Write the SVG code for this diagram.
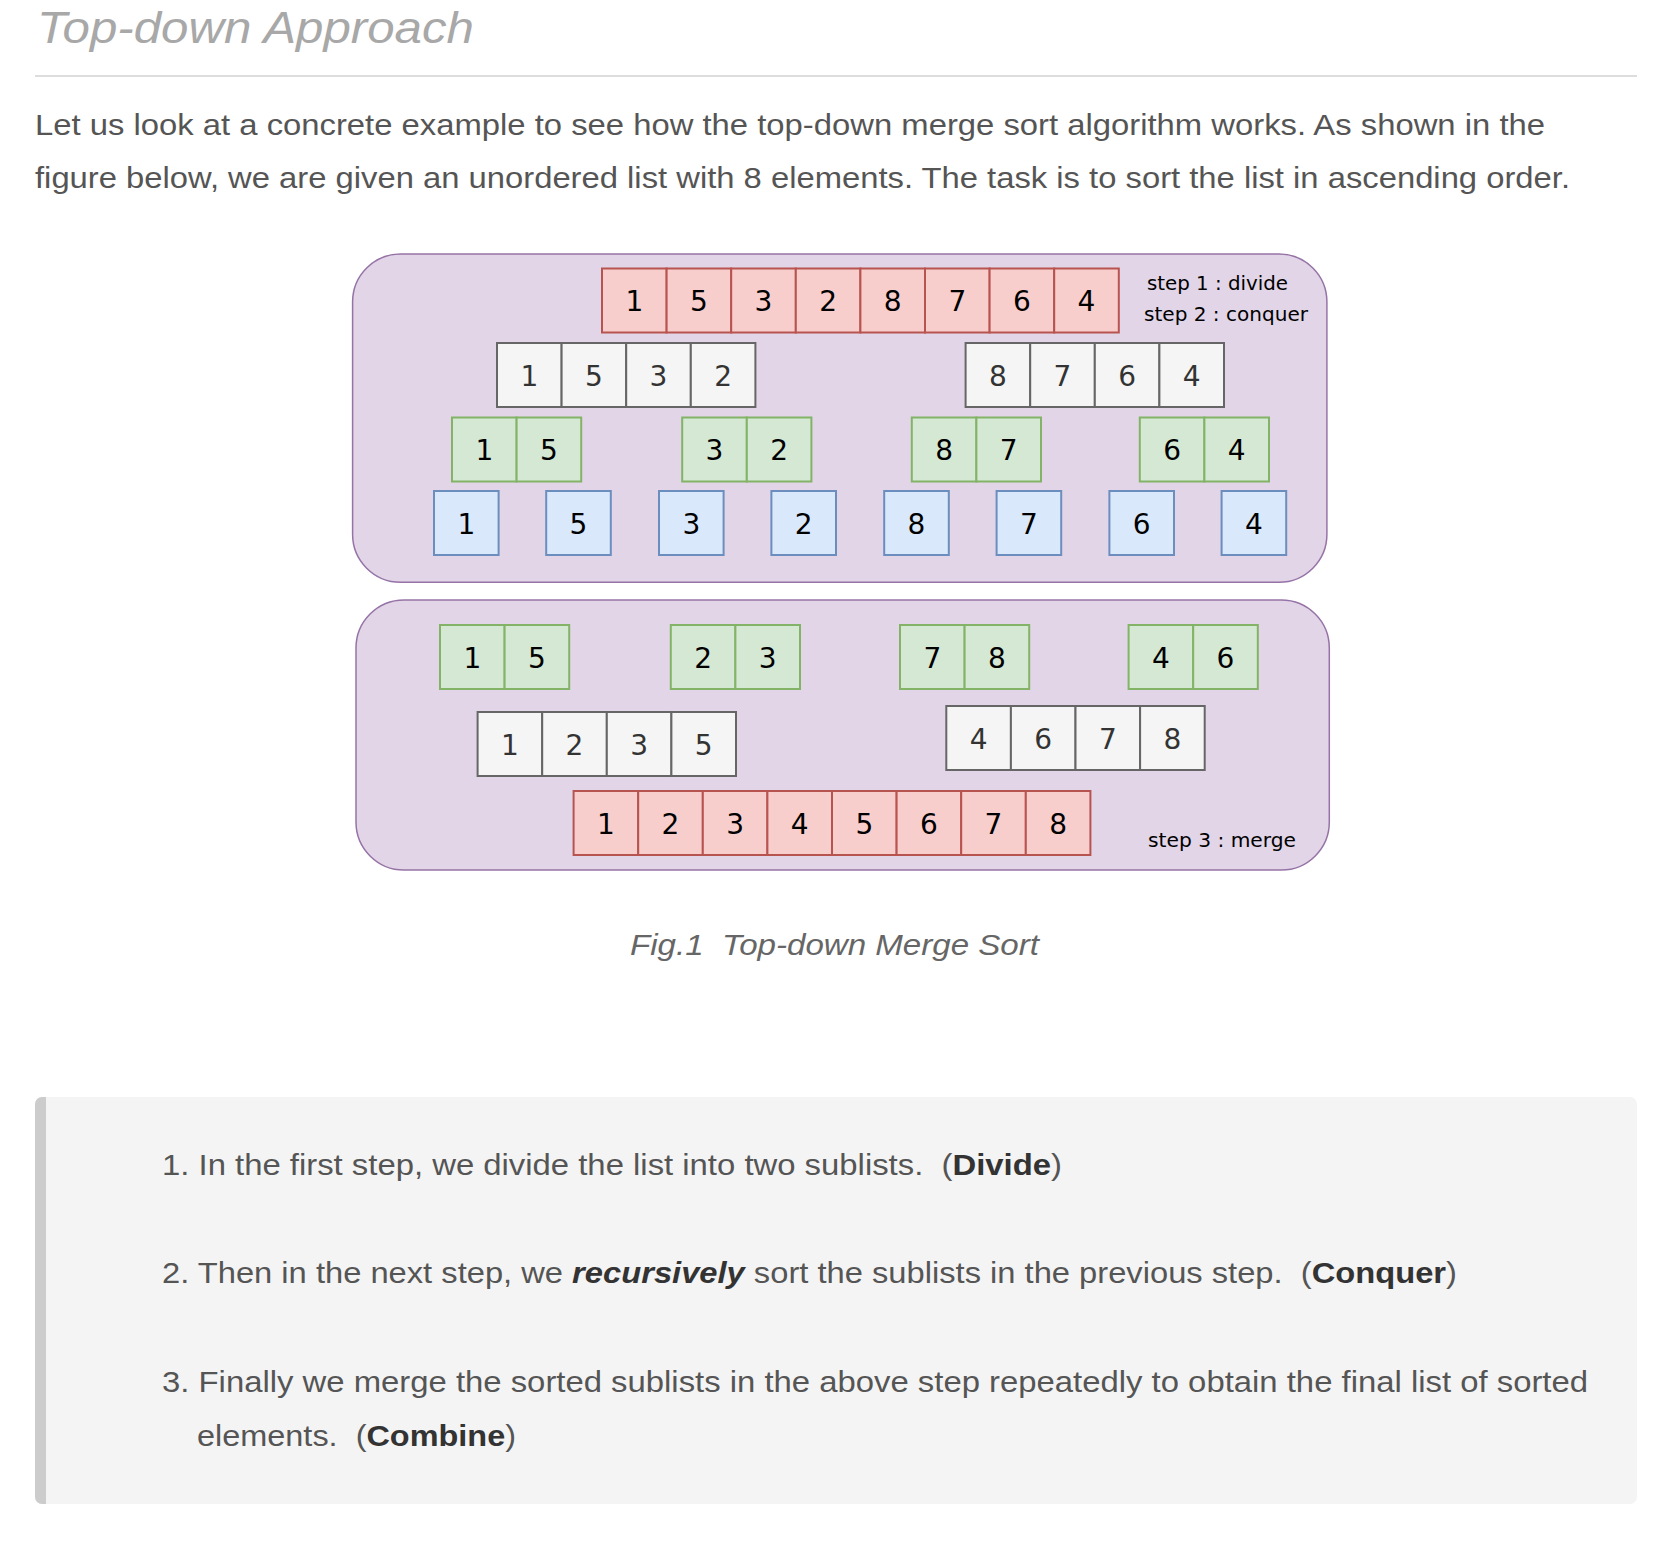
<svg xmlns="http://www.w3.org/2000/svg" width="1670" height="1560" viewBox="0 0 1670 1560">
<style>
.body{font-family:"Liberation Sans",Arial,sans-serif;font-size:29px;fill:#555}
.title{font-family:"Liberation Sans",Arial,sans-serif;font-size:45px;font-style:italic;fill:#a8a8a8}
.cap{font-family:"Liberation Sans",Arial,sans-serif;font-size:29px;font-style:italic;fill:#666}
.b{font-weight:bold;fill:#333}
.bi{font-weight:bold;font-style:italic;fill:#333}
.panel{fill:#e1d5e7;stroke:#9673a6;stroke-width:1.5}
.red rect{fill:#f8cecc;stroke:#b85450;stroke-width:2}
.gray rect{fill:#f5f5f5;stroke:#666666;stroke-width:2}
.green rect{fill:#d5e8d4;stroke:#82b366;stroke-width:2}
.blue rect{fill:#dae8fc;stroke:#6c8ebf;stroke-width:2}
.cell text{font-family:"DejaVu Sans","Liberation Sans",sans-serif;font-size:28px;text-anchor:middle;fill:#000}
.gray text{fill:#333}
.step{font-family:"DejaVu Sans","Liberation Sans",sans-serif;font-size:20px;fill:#000}
</style>
<defs>
<clipPath id="qclip"><rect x="35" y="1097" width="1602" height="407" rx="7"/></clipPath>
</defs>

<g id="header">
<text class="title" x="37" y="43" textLength="437" lengthAdjust="spacingAndGlyphs">Top-down Approach</text>
<line x1="35" y1="76" x2="1637" y2="76" stroke="#dddddd" stroke-width="2"/>
<text class="body" x="35" y="135" textLength="1510" lengthAdjust="spacingAndGlyphs">Let us look at a concrete example to see how the top-down merge sort algorithm works. As shown in the</text>
<text class="body" x="35" y="188" textLength="1535" lengthAdjust="spacingAndGlyphs">figure below, we are given an unordered list with 8 elements. The task is to sort the list in ascending order.</text>
</g>

<g id="divide-panel">
<rect class="panel" x="352.6" y="254" width="974.3" height="328.3" rx="48"/>
</g>
<g id="merge-panel">
<rect class="panel" x="356" y="600" width="973.3" height="270" rx="48"/>
</g>

<g id="row-original" class="cell red">
<rect x="602" y="268.5" width="64.6" height="64"/><rect x="666.6" y="268.5" width="64.6" height="64"/><rect x="731.2" y="268.5" width="64.6" height="64"/><rect x="795.8" y="268.5" width="64.6" height="64"/><rect x="860.4" y="268.5" width="64.6" height="64"/><rect x="925" y="268.5" width="64.6" height="64"/><rect x="989.6" y="268.5" width="64.6" height="64"/><rect x="1054.2" y="268.5" width="64.6" height="64"/>
<text x="634.3" y="311">1</text><text x="698.9" y="311">5</text><text x="763.5" y="311">3</text><text x="828.1" y="311">2</text><text x="892.7" y="311">8</text><text x="957.3" y="311">7</text><text x="1021.9" y="311">6</text><text x="1086.5" y="311">4</text>
</g>

<g id="half-1532" class="cell gray">
<rect x="497" y="343" width="64.6" height="64"/><rect x="561.6" y="343" width="64.6" height="64"/><rect x="626.2" y="343" width="64.6" height="64"/><rect x="690.8" y="343" width="64.6" height="64"/>
<text x="529.3" y="385.5">1</text><text x="593.9" y="385.5">5</text><text x="658.5" y="385.5">3</text><text x="723.1" y="385.5">2</text>
</g>
<g id="half-8764" class="cell gray">
<rect x="965.6" y="343" width="64.6" height="64"/><rect x="1030.2" y="343" width="64.6" height="64"/><rect x="1094.8" y="343" width="64.6" height="64"/><rect x="1159.4" y="343" width="64.6" height="64"/>
<text x="997.9" y="385.5">8</text><text x="1062.5" y="385.5">7</text><text x="1127.1" y="385.5">6</text><text x="1191.7" y="385.5">4</text>
</g>

<g id="pair-15" class="cell green">
<rect x="452" y="417.5" width="64.6" height="64"/><rect x="516.6" y="417.5" width="64.6" height="64"/>
<text x="484.3" y="460">1</text><text x="548.9" y="460">5</text>
</g>
<g id="pair-32" class="cell green">
<rect x="682.2" y="417.5" width="64.6" height="64"/><rect x="746.8" y="417.5" width="64.6" height="64"/>
<text x="714.5" y="460">3</text><text x="779.1" y="460">2</text>
</g>
<g id="pair-87" class="cell green">
<rect x="911.8" y="417.5" width="64.6" height="64"/><rect x="976.4" y="417.5" width="64.6" height="64"/>
<text x="944.1" y="460">8</text><text x="1008.7" y="460">7</text>
</g>
<g id="pair-64" class="cell green">
<rect x="1139.8" y="417.5" width="64.6" height="64"/><rect x="1204.4" y="417.5" width="64.6" height="64"/>
<text x="1172.1" y="460">6</text><text x="1236.7" y="460">4</text>
</g>

<g id="single-1" class="cell blue"><rect x="434" y="491" width="64.6" height="64"/><text x="466.3" y="533.5">1</text></g>
<g id="single-5" class="cell blue"><rect x="546.2" y="491" width="64.6" height="64"/><text x="578.5" y="533.5">5</text></g>
<g id="single-3" class="cell blue"><rect x="659" y="491" width="64.6" height="64"/><text x="691.3" y="533.5">3</text></g>
<g id="single-2" class="cell blue"><rect x="771.4" y="491" width="64.6" height="64"/><text x="803.7" y="533.5">2</text></g>
<g id="single-8" class="cell blue"><rect x="884.2" y="491" width="64.6" height="64"/><text x="916.5" y="533.5">8</text></g>
<g id="single-7" class="cell blue"><rect x="996.6" y="491" width="64.6" height="64"/><text x="1028.9" y="533.5">7</text></g>
<g id="single-6" class="cell blue"><rect x="1109.4" y="491" width="64.6" height="64"/><text x="1141.7" y="533.5">6</text></g>
<g id="single-4" class="cell blue"><rect x="1221.6" y="491" width="64.6" height="64"/><text x="1253.9" y="533.5">4</text></g>

<g id="step-labels-top">
<text class="step" x="1147" y="290" textLength="141" lengthAdjust="spacingAndGlyphs">step 1 : divide</text>
<text class="step" x="1144" y="321" textLength="164" lengthAdjust="spacingAndGlyphs">step 2 : conquer</text>
</g>

<g id="sorted-15" class="cell green">
<rect x="440" y="625" width="64.6" height="64"/><rect x="504.6" y="625" width="64.6" height="64"/>
<text x="472.3" y="667.5">1</text><text x="536.9" y="667.5">5</text>
</g>
<g id="sorted-23" class="cell green">
<rect x="670.8" y="625" width="64.6" height="64"/><rect x="735.4" y="625" width="64.6" height="64"/>
<text x="703.1" y="667.5">2</text><text x="767.7" y="667.5">3</text>
</g>
<g id="sorted-78" class="cell green">
<rect x="900" y="625" width="64.6" height="64"/><rect x="964.6" y="625" width="64.6" height="64"/>
<text x="932.3" y="667.5">7</text><text x="996.9" y="667.5">8</text>
</g>
<g id="sorted-46" class="cell green">
<rect x="1128.6" y="625" width="64.6" height="64"/><rect x="1193.2" y="625" width="64.6" height="64"/>
<text x="1160.9" y="667.5">4</text><text x="1225.5" y="667.5">6</text>
</g>

<g id="merged-1235" class="cell gray">
<rect x="477.6" y="712" width="64.6" height="64"/><rect x="542.2" y="712" width="64.6" height="64"/><rect x="606.8" y="712" width="64.6" height="64"/><rect x="671.4" y="712" width="64.6" height="64"/>
<text x="509.9" y="754.5">1</text><text x="574.5" y="754.5">2</text><text x="639.1" y="754.5">3</text><text x="703.7" y="754.5">5</text>
</g>
<g id="merged-4678" class="cell gray">
<rect x="946.3" y="706" width="64.6" height="64"/><rect x="1010.9" y="706" width="64.6" height="64"/><rect x="1075.5" y="706" width="64.6" height="64"/><rect x="1140.1" y="706" width="64.6" height="64"/>
<text x="978.6" y="748.5">4</text><text x="1043.2" y="748.5">6</text><text x="1107.8" y="748.5">7</text><text x="1172.4" y="748.5">8</text>
</g>

<g id="row-sorted" class="cell red">
<rect x="573.6" y="791" width="64.6" height="64"/><rect x="638.2" y="791" width="64.6" height="64"/><rect x="702.8" y="791" width="64.6" height="64"/><rect x="767.4" y="791" width="64.6" height="64"/><rect x="832" y="791" width="64.6" height="64"/><rect x="896.6" y="791" width="64.6" height="64"/><rect x="961.2" y="791" width="64.6" height="64"/><rect x="1025.8" y="791" width="64.6" height="64"/>
<text x="605.9" y="833.5">1</text><text x="670.5" y="833.5">2</text><text x="735.1" y="833.5">3</text><text x="799.7" y="833.5">4</text><text x="864.3" y="833.5">5</text><text x="928.9" y="833.5">6</text><text x="993.5" y="833.5">7</text><text x="1058.1" y="833.5">8</text>
</g>

<g id="step-label-bottom">
<text class="step" x="1148" y="847" textLength="148" lengthAdjust="spacingAndGlyphs">step 3 : merge</text>
</g>

<g id="connectors"></g>

<g id="caption">
<text class="cap" x="630" y="955" textLength="409" lengthAdjust="spacingAndGlyphs">Fig.1&#160; Top-down Merge Sort</text>
</g>

<g id="blockquote">
<rect x="35" y="1097" width="1602" height="407" rx="7" fill="#f4f4f4"/>
<rect x="35" y="1097" width="11" height="407" fill="#cccccc" clip-path="url(#qclip)"/>
<text class="body" x="162" y="1175" textLength="900" lengthAdjust="spacingAndGlyphs">1. In the first step, we divide the list into two sublists.&#160; (<tspan class="b">Divide</tspan>)</text>
<text class="body" x="162" y="1283" textLength="1295" lengthAdjust="spacingAndGlyphs">2. Then in the next step, we <tspan class="bi">recursively</tspan> sort the sublists in the previous step.&#160; (<tspan class="b">Conquer</tspan>)</text>
<text class="body" x="162" y="1392" textLength="1426" lengthAdjust="spacingAndGlyphs">3. Finally we merge the sorted sublists in the above step repeatedly to obtain the final list of sorted</text>
<text class="body" x="197" y="1446" textLength="319" lengthAdjust="spacingAndGlyphs">elements.&#160; (<tspan class="b">Combine</tspan>)</text>
</g>
</svg>
